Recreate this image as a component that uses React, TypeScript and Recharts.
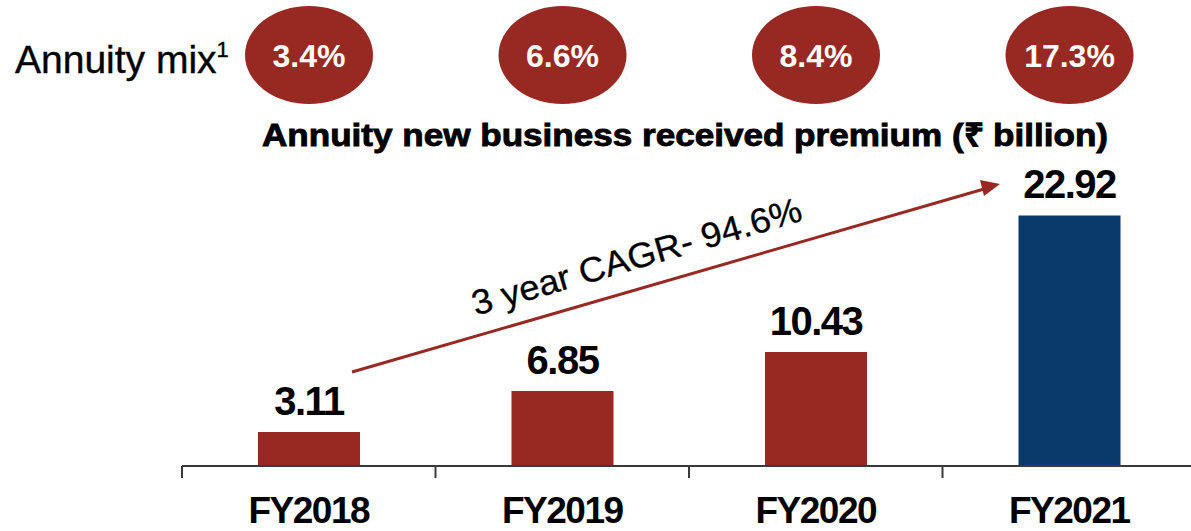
import { BarChart, Bar, XAxis, YAxis, Cell, LabelList } from 'recharts';

const years = ['FY2018', 'FY2019', 'FY2020', 'FY2021'];
const premium = [3.11, 6.85, 10.43, 22.92];
const annuityMix = [3.4, 6.6, 8.4, 17.3];

const RED = '#982922';
const BLUE = '#093a6b';
const FONT = '"Liberation Sans", Arial, sans-serif';

const data = years.map((year, i) => ({ year, premium: premium[i], mix: annuityMix[i] }));

function YearTick(props: any) {
  const { x, y, payload, index } = props;
  const half = payload?.offset || 126.75;
  const top = y - 12;
  return (
    <g>
      <line x1={x - half} y1={top} x2={x - half} y2={top + 12} stroke="#3a3a3a" strokeWidth={2} />
      {index === years.length - 1 && (
        <line x1={x + half} y1={top} x2={x + half} y2={top + 12} stroke="#3a3a3a" strokeWidth={2} />
      )}
      <text
        x={x}
        y={y + 45}
        textAnchor="middle"
        fontFamily={FONT}
        fontWeight="bold"
        fontSize={37}
        letterSpacing={-1.5}
        fill="#000"
      >
        {payload.value}
      </text>
    </g>
  );
}

function MixBubble(props: any) {
  const vb = props.viewBox ?? {};
  const bx = props.x ?? vb.x;
  const bw = props.width ?? vb.width;
  const cx = bx + bw / 2;
  return (
    <g>
      <ellipse cx={cx} cy={55} rx={64} ry={49} fill={RED} />
      <text
        x={cx}
        y={67}
        textAnchor="middle"
        fontFamily={FONT}
        fontWeight="bold"
        fontSize={32}
        fill="#fff"
      >
        {Number(props.value).toFixed(1)}%
      </text>
    </g>
  );
}

export default function App() {
  return (
    <div style={{ position: 'absolute', left: 0, top: 0, width: 1191, height: 531, overflow: 'hidden', background: '#fff' }}>
      <BarChart
        width={1196}
        height={531}
        data={data}
        margin={{ top: 138, right: 0, left: 182, bottom: 0 }}
        barCategoryGap={0}
      >
        <XAxis
          dataKey="year"
          height={65}
          tickSize={12}
          tickMargin={0}
          tickLine={false}
          axisLine={{ stroke: '#3a3a3a', strokeWidth: 2 }}
          tick={<YearTick />}
          interval={0}
        />
        <YAxis hide domain={[0, 30]} />
        <Bar dataKey="premium" barSize={102} isAnimationActive={false}>
          {data.map((d, i) => (
            <Cell key={d.year} fill={i === data.length - 1 ? BLUE : RED} />
          ))}
          <LabelList
            dataKey="premium"
            position="top"
            offset={17}
            fill="#000"
            fontFamily={FONT}
            fontWeight="bold"
            fontSize={40}
            letterSpacing={-1.5}
          />
          <LabelList dataKey="mix" content={<MixBubble />} />
        </Bar>
      </BarChart>

      <svg
        width={1191}
        height={531}
        style={{ position: 'absolute', left: 0, top: 0, pointerEvents: 'none' }}
      >
        <text x={15} y={73} fontFamily={FONT} fontSize={39} fill="#000" stroke="#000" strokeWidth={0.4}>
          Annuity mix
          <tspan dy={-16} fontSize={22}>1</tspan>
        </text>
        <text
          x={685}
          y={146}
          textAnchor="middle"
          fontFamily={FONT}
          fontWeight={900}
          fontSize={32}
          fill="#000"
          stroke="#000"
          strokeWidth={0.9}
          textLength={846}
          lengthAdjust="spacingAndGlyphs"
        >
          Annuity new business received premium (₹ billion)
        </text>
        <line x1={352} y1={372} x2={984} y2={189} stroke={RED} strokeWidth={3} />
        <polygon points="1000,184 980,180 984,196" fill={RED} />
        <text
          x={640}
          y={268}
          textAnchor="middle"
          fontFamily={FONT}
          fontSize={35}
          fill="#000"
          stroke="#000"
          strokeWidth={0.3}
          textLength={342}
          lengthAdjust="spacingAndGlyphs"
          transform="rotate(-16.2 640 268)"
        >
          3 year CAGR- 94.6%
        </text>
      </svg>
    </div>
  );
}
